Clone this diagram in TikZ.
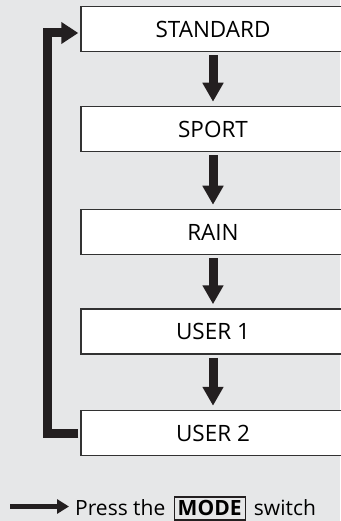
\documentclass[tikz,border=0pt]{standalone}
\usepackage{fontspec}
\setmainfont{Open Sans}
\usetikzlibrary{arrows.meta}
\definecolor{bg}{RGB}{230,231,232}
\definecolor{ink}{RGB}{35,31,32}
\definecolor{edge}{RGB}{50,50,50}
\tikzset{
  modebox/.style={draw=edge, line width=1.5pt, fill=white, minimum width=264pt, minimum height=45pt, inner sep=0pt, font=\fontsize{22.5}{26}\selectfont},
  downarrow/.style={draw=ink, line width=9pt, -{Triangle[width=20pt,length=19pt]}},
  looparrow/.style={draw=ink, line width=9pt, line join=miter, -{Triangle[width=21pt,length=17pt]}},
  legarrow/.style={draw=ink, line width=5pt, -{Triangle[width=14pt,length=12pt]}},
  legtext/.style={inner sep=0pt, font=\fontsize{21}{25}\selectfont, anchor=base west}
}
\begin{document}
\begin{tikzpicture}[x=1pt,y=-1pt]
\useasboundingbox[fill=bg] (0,0) rectangle (340,521);
\node[modebox] (b1) at (213,29) {STANDARD};
\node[modebox] (b2) at (213,129) {SPORT};
\node[modebox] (b3) at (213,232) {RAIN};
\node[modebox] (b4) at (213,331.5) {USER 1};
\node[modebox] (b5) at (213,433) {USER 2};
\draw[downarrow] ([yshift=-3pt]b1.south) -- ([yshift=4pt]b2.north);
\draw[downarrow] ([yshift=-3pt]b2.south) -- ([yshift=4pt]b3.north);
\draw[downarrow] ([yshift=-3pt]b3.south) -- ([yshift=4pt]b4.north);
\draw[downarrow] ([yshift=-3pt]b4.south) -- ([yshift=4pt]b5.north);
\coordinate (lt) at (47.5,33);
\coordinate (ls) at ([xshift=-2pt]b5.west);
\coordinate (le) at ([xshift=-2pt]b1.west |- lt);
\draw[looparrow] (ls) -| (lt) -- (le);
\coordinate (a0) at (10,506.5);
\coordinate (a1) at (69,506.5);
\draw[legarrow] (a0) -- (a1);
\node[legtext] (press) at (75,515) {Press the};
\node[legtext, draw=ink, line width=1.2pt, inner xsep=0pt, inner ysep=0pt, minimum width=71pt, text height=18pt, text depth=5pt, font=\fontsize{21}{25}\selectfont\bfseries] (mode) at ([xshift=8pt]press.base east) {MODE};
\node[legtext] (sw) at ([xshift=8pt]mode.base east) {switch};
\end{tikzpicture}
\end{document}
